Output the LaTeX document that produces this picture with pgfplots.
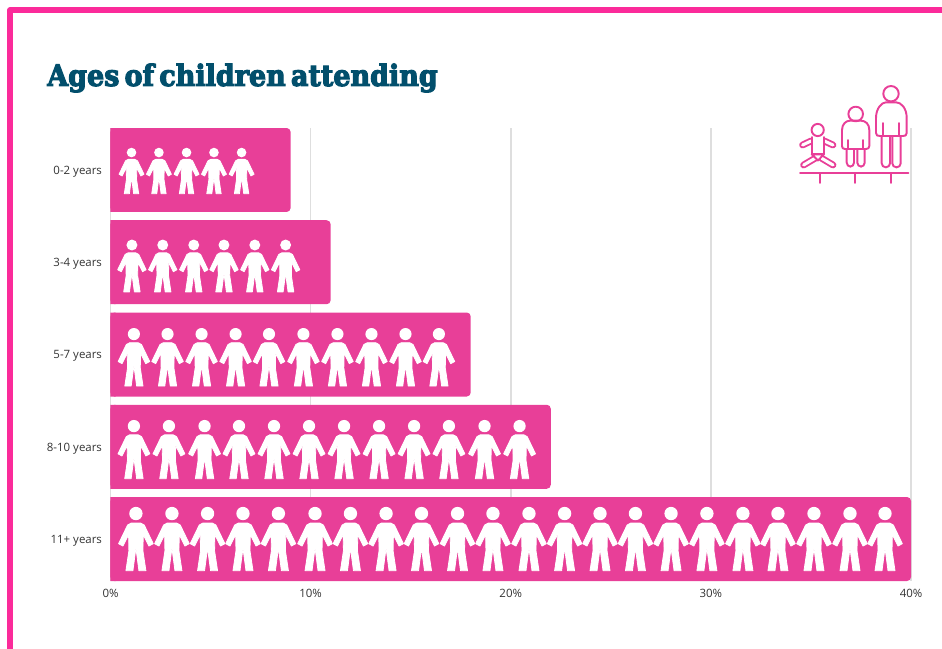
\documentclass[border=0pt]{standalone}
\usepackage{fontspec}
\usepackage{pgfplots}
\usepackage{pgfplotstable}
\pgfplotsset{compat=1.18}
\setmainfont{Open Sans}
\newfontfamily\titlefont{DejaVu Serif}[FakeBold=4,WordSpace=0.55]

\definecolor{framepink}{HTML}{FB2A9A}
\definecolor{barpink}{HTML}{E83F98}
\definecolor{titleblue}{HTML}{024F6C}
\definecolor{gridgrey}{HTML}{DEDEDE}
\definecolor{labelgrey}{HTML}{333333}

% One pictogram figure, centred on its plot coordinate; 0.25pt per design unit.
\newcommand{\fp}[2]{\pgfpoint{#1*0.25pt}{#2*0.25pt}}
\pgfdeclareplotmark{person}{%
  \pgfsetfillcolor{white}%
  \pgfsetstrokecolor{white}%
  \pgfpathcircle{\fp{0}{76.5}}{5pt}%
  \pgfusepathqfill
  \begingroup
  \pgfsetlinewidth{0.6pt}%
  \pgfsetroundjoin
  \pgfsetcornersarced{\pgfpoint{1pt}{1pt}}%
  \pgfpathmoveto{\fp{0}{48}}%
  \pgfpathlineto{\fp{14}{48}}%
  \pgfpathlineto{\fp{25}{42}}%
  \pgfpathlineto{\fp{52}{-14}}%
  \pgfpathlineto{\fp{39}{-21}}%
  \pgfpathlineto{\fp{22}{13}}%
  \pgfpathlineto{\fp{21}{-35}}%
  \pgfpathlineto{\fp{30}{-95}}%
  \pgfpathlineto{\fp{9}{-95}}%
  \pgfpathlineto{\fp{0}{-27}}%
  \pgfpathlineto{\fp{-9}{-95}}%
  \pgfpathlineto{\fp{-30}{-95}}%
  \pgfpathlineto{\fp{-21}{-35}}%
  \pgfpathlineto{\fp{-22}{13}}%
  \pgfpathlineto{\fp{-39}{-21}}%
  \pgfpathlineto{\fp{-52}{-14}}%
  \pgfpathlineto{\fp{-25}{42}}%
  \pgfpathlineto{\fp{-14}{48}}%
  \pgfpathclose
  \pgfusepathqfillstroke
  \endgroup
}

\pgfplotstableread{
share row
9  0
11 1
18 2
22 3
40 4
}\sharetable

% a rounded limb of the baby icon: pink casing with a white core
\newcommand{\limb}[2]{%
  \draw[barpink,line width=5.1pt,line cap=round] #1 -- #2;
  \draw[white,line width=2.3pt,line cap=round] #1 -- #2;
}

\begin{document}
\begin{tikzpicture}[x=0.75pt,y=-0.75pt]
\path[use as bounding box] (0,0) rectangle (942,649);
\coordinate (origin) at (110.5,581);

% page frame
\draw[framepink,line width=4.2pt,line join=round] (10,649) -- (10,10) -- (942,10);

% title
\node[anchor=west,inner sep=0pt,text=titleblue] at (47,78)
  {\scalebox{0.92}[1]{\fontsize{22}{26}\titlefont\bfseries Ages of children attending}};

\begin{axis}[
  at={(origin)}, anchor=south west,
  scale only axis,
  width=600.4pt, height=339.75pt,
  xmin=0, xmax=40,
  ymin=-0.455, ymax=4.455,
  y dir=reverse,
  axis line style={draw=none},
  major tick length=0pt,
  xtick={0,10,20,30,40},
  xticklabels={0\%,10\%,20\%,30\%,40\%},
  ytick={0,1,2,3,4},
  yticklabels={0-2 years,3-4 years,5-7 years,8-10 years,11+ years},
  xmajorgrids,
  grid style={gridgrey,line width=1.1pt},
  tick label style={font=\fontsize{8.6}{10}\selectfont,text=labelgrey},
  yticklabel style={inner sep=0pt,xshift=-6.2pt,yshift=-1.3pt},
  xticklabel style={inner sep=0pt,yshift=-6.3pt},
]
% bars: rounded ends, with the base squared off by a short plain bar
\addplot[xbar,bar shift=0pt,bar width=63pt,draw=none,fill=barpink,rounded corners=3pt]
  table[x=share,y=row]{\sharetable};
\addplot[xbar,bar shift=0pt,bar width=63pt,draw=none,fill=barpink,forget plot]
  coordinates {(0.25,0)(0.25,1)(0.25,2)(0.25,3)(0.25,4)};

% pictogram rows
\addplot[only marks,mark=person,mark options={scale=0.72}] coordinates
  {(1.05,0.01)(2.42,0.01)(3.80,0.01)(5.17,0.01)(6.55,0.01)};
\addplot[only marks,mark=person,mark options={scale=0.82}] coordinates
  {(1.07,1.04)(2.61,1.04)(4.16,1.04)(5.67,1.04)(7.21,1.04)(8.75,1.04)};
\addplot[only marks,mark=person,mark options={scale=0.91}] coordinates
  {(1.17,2.03)(2.85,2.03)(4.55,2.03)(6.25,2.03)(7.92,2.03)(9.64,2.03)(11.34,2.03)(13.04,2.03)(14.74,2.03)(16.41,2.03)};
\addplot[only marks,mark=person,mark options={scale=0.92}] coordinates
  {(1.17,3.03)(2.92,3.03)(4.70,3.03)(6.42,3.03)(8.17,3.03)(9.92,3.03)(11.67,3.03)(13.42,3.03)(15.17,3.03)(16.91,3.03)(18.69,3.03)(20.44,3.03)};
\addplot[only marks,mark=person,mark options={scale=1}] coordinates
  {(1.27,4)(3.07,4)(4.85,4)(6.62,4)(8.39,4)(10.22,4)(11.99,4)(13.77,4)(15.54,4)(17.34,4)(19.11,4)(20.91,4)(22.69,4)(24.46,4)(26.23,4)(28.01,4)(29.80,4)(31.60,4)(33.35,4)(35.15,4)(36.95,4)(38.70,4)};
\end{axis}

% age-group icon, upper right
\begin{scope}[barpink,line width=1.45pt,line join=round,line cap=round]
  \draw (800,173) -- (908.3,173);
  \draw (819.7,173) -- (819.7,183) (855.3,173) -- (855.3,183) (890.7,173) -- (890.7,183);
  % adult
  \draw (891,93.7) circle[radius=7.7];
  \draw[rounded corners=3] (881.7,136) -- (881.7,167.3) -- (890,167.3) -- (890,136);
  \draw[rounded corners=3] (892.3,136) -- (892.3,167.3) -- (900.7,167.3) -- (900.7,136);
  \draw (876,133) -- (876,118) .. controls (876,108) and (882,102.3) .. (886,102.3)
        -- (896,102.3) .. controls (901,102.3) and (906.7,108) .. (906.7,118)
        -- (906.7,133) .. controls (906.7,135.5) and (905,136) .. (903,136)
        -- (880,136) .. controls (877.5,136) and (876,135.5) .. (876,133);
  \draw (883,123) -- (883,136) (899.3,123) -- (899.3,136);
  % child
  \draw[rounded corners=3] (846.7,149) -- (846.7,166.7) -- (854,166.7) -- (854,149);
  \draw[rounded corners=3] (857.3,149) -- (857.3,166.7) -- (864.7,166.7) -- (864.7,149);
  \draw (855.7,114) circle[radius=7.3];
  \draw (842,146) -- (842,130) .. controls (842,124) and (846,120.7) .. (850,120.7)
        -- (861,120.7) .. controls (865.5,120.7) and (869.3,124) .. (869.3,130)
        -- (869.3,146) .. controls (869.3,148) and (868,149) .. (866,149)
        -- (845,149) .. controls (843,149) and (842,148) .. (842,146);
  \draw (848.3,140) -- (848.3,149) (863.3,140) -- (863.3,149);
  % baby
  \limb{(802.6,145)}{(811,141)}
  \limb{(833,145)}{(824.3,141)}
  \limb{(803.6,165)}{(815,158.3)}
  \limb{(833,165)}{(821.7,158.3)}
  \draw[fill=white] (811.7,137) -- (811.7,154.3) -- (824,154.3) -- (824,137);
  \draw[fill=white] (811.7,154.3) -- (824,154.3) -- (817.9,160.5) -- cycle;
  \draw[fill=white] (817.7,130) circle[radius=6.1];
\end{scope}
\end{tikzpicture}
\end{document}
